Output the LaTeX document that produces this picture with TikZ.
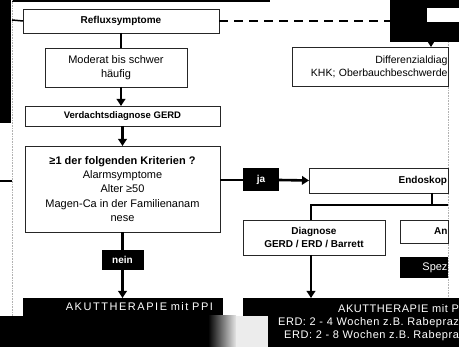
\documentclass[tikz,border=0pt]{standalone}
\usepackage{fontspec}
\setmainfont{Liberation Sans}
\usepackage{tikz}
\usetikzlibrary{arrows.meta}
\tikzset{
    flow-box/.style = {draw=black!85, fill=white, line width=0.8pt, rectangle, inner sep=0pt, outer sep=0pt, align=center, font=\fontsize{11}{13.5}\selectfont},
    flow-title/.style = {flow-box, font=\fontsize{10}{13}\selectfont\bfseries},
    dark-box/.style = {fill=black, text=white, rectangle, inner sep=0pt, outer sep=0pt, align=center, font=\fontsize{11}{13}\selectfont},
    flow-line/.style = {line width=2.6pt, black},
    flow-arrow/.style = {flow-line, -{Triangle[length=7pt,width=8.5pt]}},
    crop-edge/.style = {gray!60, densely dotted, line width=0.6pt},
}
\begin{document}
\begin{tikzpicture}[x=1pt,y=-1pt]
\useasboundingbox (0,0) rectangle (459,347);
\fill (0,0) rectangle (11,123);
\fill (12,0) rectangle (270,2);
\draw[crop-edge] (12,0) -- (12,316);
\draw[crop-edge] (448,42) -- (448,298);

\node[flow-title, minimum width=196pt, minimum height=24pt] (reflux) at (121,21) {Refluxsymptome};
\node[flow-box, minimum width=142pt, minimum height=39pt] (moderat) at (116,67.5) {Moderat bis schwer\\h\"aufig};
\node[flow-title, minimum width=195pt, minimum height=20pt, font=\fontsize{9.5}{12}\selectfont\bfseries] (verdacht) at (122.5,116) {Verdachtsdiagnose GERD};
\node[flow-box, minimum width=195pt, minimum height=86pt, font=\fontsize{11}{14.2}\selectfont] (crit) at (122.5,189) {\textbf{≥1 der folgenden Kriterien ?}\\Alarmsymptome\\Alter ≥50\\Magen-Ca in der Familienanam\\nese};
\node[dark-box, font=\fontsize{10}{12}\selectfont\bfseries, minimum width=42pt, minimum height=20pt] (nein) at (122.5,260) {nein};
\node[dark-box, minimum width=200pt, minimum height=18pt, text width=180pt, align=right, font=\fontsize{11}{13}\selectfont\addfontfeature{LetterSpace=14}] (akutl) at (123,307) {AKUTTHERAPIE mit PPI};

\node[dark-box, font=\fontsize{10}{12}\selectfont\bfseries, minimum width=36pt, minimum height=23pt] (ja) at (261,180) {ja};
\node[flow-title, minimum width=139pt, minimum height=25pt, text width=137pt, align=right] (endo) at (378.5,180.5) {Endoskop};
\node[flow-title, minimum width=142pt, minimum height=35pt] (diag) at (314,237.5) {Diagnose\\GERD / ERD / Barrett};
\node[flow-title, minimum width=48pt, minimum height=23pt, text width=47pt, align=right] (an) at (424,231.5) {An};
\node[dark-box, minimum width=48pt, minimum height=21pt, text width=47pt, align=right] (spez) at (424,267.5) {Spez};
\node[dark-box, minimum width=216pt, minimum height=49pt, text width=216pt, align=right, font=\fontsize{11}{13}\selectfont\addfontfeature{LetterSpace=5}] (akutr) at (351,322.5) {AKUTTHERAPIE mit P\\ERD: 2 - 4 Wochen z.B. Rabepraz\\ERD: 2 - 8 Wochen z.B. Rabepra};

\node[dark-box, minimum width=69pt, minimum height=42pt] (topright) at (424.5,21) {};
\fill[white] (427,8) rectangle (459,22);
\node[flow-box, minimum width=156pt, minimum height=39pt, text width=155pt, align=right, font=\fontsize{10.5}{13}\selectfont] (diff) at (370,66.5) {Differenzialdiag\\KHK; Oberbauchbeschwerde};

\fill (0,316) rectangle (208,347);
\shade[left color=black, right color=gray!20] (208,316) rectangle (236,347);
\fill[gray!15] (236,316) rectangle (268,347);

\coordinate (leftstub) at (12,20);
\coordinate (leftcut) at (0,181);
\coordinate (leftend) at (12,181);
\coordinate (split) at (432,205);
\coordinate (turn) at (311,205);
\coordinate (cut) at (448,205);
\coordinate (drop) at (431,42);

\draw[flow-line, line width=1.5pt] (reflux.west) -- (leftstub);
\draw[flow-line, line width=1.5pt] (leftcut) -- (leftend);
\draw[flow-line, line width=2pt, dash pattern=on 9pt off 6pt] (reflux.east) -- (topright.west |- reflux.east);
\draw[-{Triangle[length=5pt,width=6pt]}, line width=1pt] (drop) -- (drop |- diff.north);
\draw[flow-line] (reflux.south) -- (reflux.south |- moderat.north);
\draw[flow-arrow] (moderat.south -| reflux.south) -- (verdacht.north -| reflux.south);
\draw[flow-arrow] (verdacht.south) -- (crit.north);
\draw[flow-line] (crit.south) -- (nein.north);
\draw[flow-arrow] (nein.south) -- (akutl.north -| nein.south);
\draw[flow-line] (crit.east |- ja.west) -- (ja.west);
\draw[flow-arrow] (ja.east) -- (endo.west);
\draw[flow-line] (endo.south -| split) -- (split);
\draw[flow-line] (cut) -- (turn) -- (diag.north -| turn);
\draw[flow-arrow] (diag.south -| turn) -- (akutr.north -| turn);
\end{tikzpicture}
\end{document}
